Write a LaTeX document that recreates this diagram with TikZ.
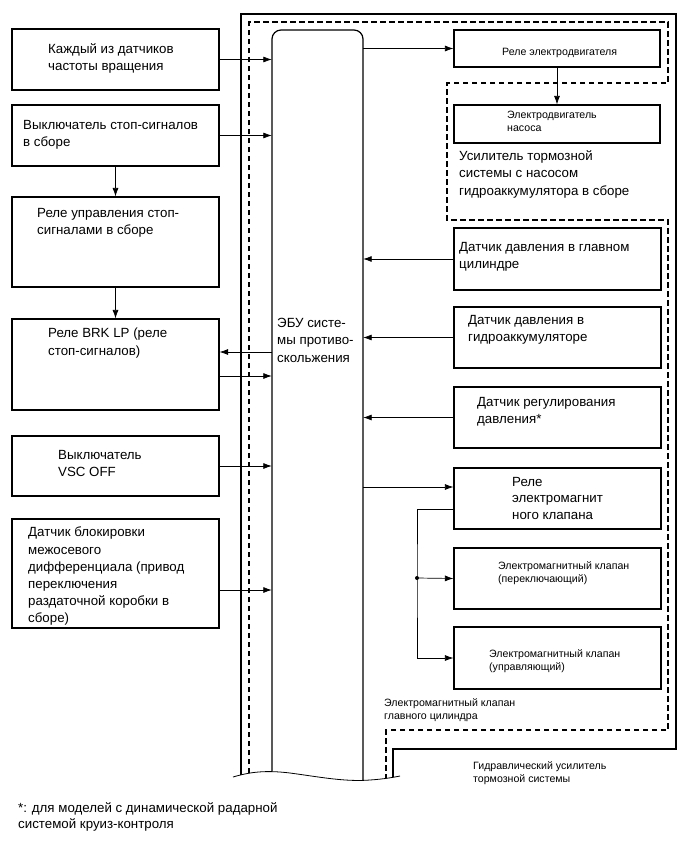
\documentclass[tikz,border=0pt]{standalone}
\usepackage{fontspec}
\setmainfont{Liberation Sans}
\usetikzlibrary{arrows.meta,fit}
\begin{document}
\begin{tikzpicture}[x=1pt,y=-1pt,
  box/.style={draw, line width=1.2pt, inner sep=0pt},
  frame/.style={line width=1.2pt},
  dframe/.style={line width=1.1pt, dash pattern=on 5.5pt off 3.5pt},
  conn/.style={line width=0.7pt},
  arr/.style={conn, -{Latex[length=8.5pt,width=6pt]}},
  txt/.style={anchor=north west, inner sep=0pt, align=left, font=\fontsize{13.3}{17.5}\selectfont},
  stxt/.style={anchor=north west, inner sep=0pt, align=left, font=\fontsize{10.6}{13.3}\selectfont}]
\useasboundingbox (0,0) rectangle (690,854);

% frames, clipped at the wavy break line
\begin{scope}
\clip (200,0) -- (200,777) -- (233,777) .. controls (250,772) and (265,770) .. (290,773)
  .. controls (320,777) and (345,782) .. (370,780) .. controls (385,779) and (395,777) .. (400,776)
  -- (690,776) -- (690,0) -- cycle;
\draw[frame] (241,800) -- (241,14) -- (676,14) -- (676,749) -- (393,749) -- (393,800);
\draw[dframe] (249,800) -- (249,22) -- (668,22) -- (668,83) -- (447,83) -- (447,220) -- (668,220) -- (668,730) -- (386,730) -- (386,800);
\draw[frame, rounded corners=9pt] (272,800) -- (272,30) -- (363,30) -- (363,800);
\end{scope}
\draw[line width=0.8pt] (233,777) .. controls (250,772) and (265,770) .. (290,773)
  .. controls (320,777) and (345,782) .. (370,780) .. controls (385,779) and (395,777) .. (400,776);
\node[fit={(272,30) (363,776)}, inner sep=0pt] (ecu) {};
\node[txt] (ecut) at (277,318) {ЭБУ систе-\\мы противо-\\скольжения};

% left boxes
\node[box, fit={(12,29) (219,90)}] (b1) {};
\node[txt] (b1t) at (48,43) {Каждый из датчиков\\частоты вращения};
\node[box, fit={(12,105) (219,166)}] (b2) {};
\node[txt] (b2t) at (23,120) {Выключатель стоп-сигналов\\в сборе};
\node[box, fit={(12,197) (219,287)}] (b3) {};
\node[txt] (b3t) at (37,208) {Реле управления стоп-\\сигналами в сборе};
\node[box, fit={(12,319) (219,410)}] (b4) {};
\node[txt] (b4t) at (48,328) {Реле BRK LP (реле\\стоп-сигналов)};
\node[box, fit={(12,436) (219,496)}] (b5) {};
\node[txt] (b5t) at (58,450) {Выключатель\\VSC OFF};
\node[box, fit={(12,519) (219,628)}] (b6) {};
\node[txt, font=\fontsize{13.3}{17.2}\selectfont] (b6t) at (28,527) {Датчик блокировки\\межосевого\\дифференциала (привод\\переключения\\раздаточной коробки в\\сборе)};

% right boxes
\node[box, fit={(454,30) (660,67)}] (rm) {};
\node[stxt] (rmt) at (502,48) {Реле электродвигателя};
\node[box, fit={(454,105) (660,143)}] (pm) {};
\node[stxt] (pmt) at (507,111) {Электродвигатель\\насоса};
\node[txt] (pat) at (459,150) {Усилитель тормозной\\системы с насосом\\гидроаккумулятора в сборе};
\node[box, fit={(454,228) (661,290)}] (mc) {};
\node[txt] (mct) at (459,242) {Датчик давления в главном\\цилиндре};
\node[box, fit={(454,307) (661,368)}] (ac) {};
\node[txt] (act) at (468,315) {Датчик давления в\\гидроаккумуляторе};
\node[box, fit={(454,387) (661,448)}] (rg) {};
\node[txt] (rgt) at (477,397) {Датчик регулирования\\давления*};
\node[box, fit={(454,468) (661,529)}] (sr) {};
\node[txt, font=\fontsize{13.3}{16.5}\selectfont] (srt) at (512,477) {Реле\\электромагнит\\ного клапана};
\node[box, fit={(454,548) (661,609)}] (sv) {};
\node[stxt] (svt) at (498,561) {Электромагнитный клапан\\(переключающий)};
\node[box, fit={(454,627) (661,689)}] (cv) {};
\node[stxt] (cvt) at (489,649) {Электромагнитный клапан\\(управляющий)};
\node[stxt] (mvt) at (384,698) {Электромагнитный клапан\\главного цилиндра};
\node[stxt] (hbt) at (473,761) {Гидравлический усилитель\\тормозной системы};

% footnote
\node[txt, font=\fontsize{13.3}{16}\selectfont] (fn) at (18,802) {*: для моделей с динамической радарной\\системой круиз-контроля};

% connectors left
\draw[arr] (b1.east) -- (b1.east -| ecu.west);
\draw[arr] (b2.east) -- (b2.east -| ecu.west);
\draw[arr] (b2.south) -- (b3.north);
\draw[arr] (b3.south) -- (b4.north);
\draw[arr] (ecu.west |- 0,352) -- (b4.east |- 0,352);
\draw[arr] (b4.east |- 0,376) -- (ecu.west |- 0,376);
\draw[arr] (b5.east) -- (b5.east -| ecu.west);
\draw[arr] (b6.east |- 0,590) -- (ecu.west |- 0,590);

% connectors right
\draw[arr] (ecu.east |- rm.west) -- (rm.west);
\draw[arr] (rm.south) -- (pm.north);
\draw[arr] (mc.west) -- (mc.west -| ecu.east);
\draw[arr] (ac.west) -- (ac.west -| ecu.east);
\draw[arr] (rg.west) -- (rg.west -| ecu.east);
\draw[arr] (ecu.east |- 0,487) -- (sr.west |- 0,487);
\coordinate (jn) at (417,578);
\draw[arr] (sr.west |- 0,509) -| (jn) |- (cv.west);
\draw[arr] (jn) -- (sv.west);
\fill (jn) circle (2pt);
\end{tikzpicture}
\end{document}
